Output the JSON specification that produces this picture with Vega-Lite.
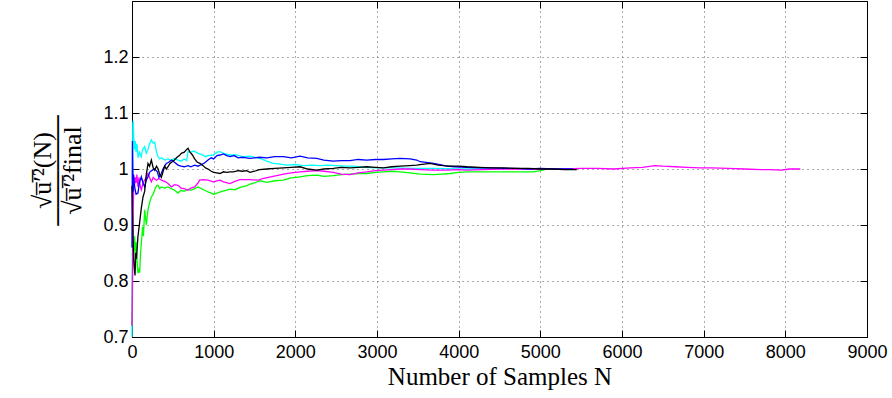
{
"$schema": "https://vega.github.io/schema/vega-lite/v6.json",
"width": 735, "height": 336,
"autosize": {"type": "none"},
"padding": {"left": 132, "top": 1, "right": 25, "bottom": 61},
"background": "white",
"config": {
  "view": {"stroke": "black", "strokeWidth": 1},
  "axis": {
    "domainColor": "black", "tickColor": "black", "tickSize": -7, "tickWidth": 1,
    "gridColor": "#555555", "gridDash": [1, 4], "gridOpacity": 1, "gridWidth": 1,
    "labelFont": "Liberation Sans", "labelFontSize": 18, "labelColor": "black",
    "titleFont": "Liberation Serif", "titleColor": "black", "titleFontWeight": "normal"
  }
},
"datasets": {"d": [
{"s":"cyan","n":0,"v":0.70},{"s":"cyan","n":5,"v":0.85},{"s":"cyan","n":10,"v":1.08},{"s":"cyan","n":15,"v":1.086},{"s":"cyan","n":20,"v":1.06},{"s":"cyan","n":30,"v":1.035},{"s":"cyan","n":40,"v":1.05},{"s":"cyan","n":50,"v":1.03},{"s":"cyan","n":60,"v":1.045},{"s":"cyan","n":75,"v":1.02},{"s":"cyan","n":90,"v":1.03},{"s":"cyan","n":114,"v":1.022},{"s":"cyan","n":130,"v":1.035},{"s":"cyan","n":155,"v":1.04},{"s":"cyan","n":175,"v":1.028},{"s":"cyan","n":196,"v":1.035},{"s":"cyan","n":215,"v":1.045},{"s":"cyan","n":237,"v":1.052},{"s":"cyan","n":260,"v":1.046},{"s":"cyan","n":278,"v":1.048},{"s":"cyan","n":300,"v":1.03},{"s":"cyan","n":318,"v":1.022},{"s":"cyan","n":340,"v":1.018},{"s":"cyan","n":359,"v":1.02},{"s":"cyan","n":400,"v":1.016},{"s":"cyan","n":441,"v":1.018},{"s":"cyan","n":480,"v":1.015},{"s":"cyan","n":520,"v":1.019},{"s":"cyan","n":563,"v":1.016},{"s":"cyan","n":600,"v":1.014},{"s":"cyan","n":640,"v":1.018},{"s":"cyan","n":670,"v":1.015},{"s":"cyan","n":686,"v":1.031},{"s":"cyan","n":720,"v":1.03},{"s":"cyan","n":760,"v":1.032},{"s":"cyan","n":808,"v":1.028},{"s":"cyan","n":850,"v":1.026},{"s":"cyan","n":900,"v":1.022},{"s":"cyan","n":931,"v":1.024},{"s":"cyan","n":996,"v":1.025},{"s":"cyan","n":1040,"v":1.03},{"s":"cyan","n":1078,"v":1.031},{"s":"cyan","n":1120,"v":1.028},{"s":"cyan","n":1200,"v":1.025},{"s":"cyan","n":1282,"v":1.025},{"s":"cyan","n":1350,"v":1.022},{"s":"cyan","n":1446,"v":1.023},{"s":"cyan","n":1500,"v":1.021},{"s":"cyan","n":1568,"v":1.019},{"s":"cyan","n":1650,"v":1.014},{"s":"cyan","n":1731,"v":1.01},{"s":"cyan","n":1800,"v":1.009},{"s":"cyan","n":1895,"v":1.007},{"s":"cyan","n":2000,"v":1.008},{"s":"cyan","n":2100,"v":1.006},{"s":"cyan","n":2200,"v":1.007},{"s":"cyan","n":2303,"v":1.006},{"s":"cyan","n":2400,"v":1.007},{"s":"cyan","n":2500,"v":1.006},{"s":"cyan","n":2600,"v":1.005},{"s":"cyan","n":2711,"v":1.005},{"s":"cyan","n":2850,"v":1.003},{"s":"cyan","n":3000,"v":1.002},{"s":"cyan","n":3200,"v":1.002},{"s":"cyan","n":3450,"v":1.001},{"s":"cyan","n":3700,"v":1.001},{"s":"cyan","n":4000,"v":1.0},{"s":"cyan","n":4400,"v":1.0},
{"s":"green","n":0,"v":0.72},{"s":"green","n":5,"v":0.76},{"s":"green","n":10,"v":0.85},{"s":"green","n":15,"v":0.87},{"s":"green","n":24,"v":0.855},{"s":"green","n":32,"v":0.88},{"s":"green","n":41,"v":0.82},{"s":"green","n":50,"v":0.87},{"s":"green","n":60,"v":0.84},{"s":"green","n":73,"v":0.814},{"s":"green","n":85,"v":0.82},{"s":"green","n":94,"v":0.815},{"s":"green","n":105,"v":0.85},{"s":"green","n":114,"v":0.867},{"s":"green","n":130,"v":0.897},{"s":"green","n":140,"v":0.88},{"s":"green","n":155,"v":0.927},{"s":"green","n":175,"v":0.9},{"s":"green","n":196,"v":0.927},{"s":"green","n":215,"v":0.94},{"s":"green","n":237,"v":0.95},{"s":"green","n":260,"v":0.955},{"s":"green","n":278,"v":0.963},{"s":"green","n":300,"v":0.97},{"s":"green","n":318,"v":0.971},{"s":"green","n":340,"v":0.965},{"s":"green","n":359,"v":0.968},{"s":"green","n":400,"v":0.966},{"s":"green","n":441,"v":0.968},{"s":"green","n":480,"v":0.965},{"s":"green","n":522,"v":0.962},{"s":"green","n":563,"v":0.957},{"s":"green","n":600,"v":0.962},{"s":"green","n":640,"v":0.96},{"s":"green","n":686,"v":0.964},{"s":"green","n":720,"v":0.962},{"s":"green","n":767,"v":0.965},{"s":"green","n":808,"v":0.968},{"s":"green","n":850,"v":0.965},{"s":"green","n":890,"v":0.962},{"s":"green","n":931,"v":0.959},{"s":"green","n":970,"v":0.957},{"s":"green","n":1000,"v":0.955},{"s":"green","n":1040,"v":0.957},{"s":"green","n":1100,"v":0.96},{"s":"green","n":1150,"v":0.962},{"s":"green","n":1200,"v":0.964},{"s":"green","n":1260,"v":0.963},{"s":"green","n":1323,"v":0.967},{"s":"green","n":1400,"v":0.97},{"s":"green","n":1446,"v":0.973},{"s":"green","n":1500,"v":0.975},{"s":"green","n":1568,"v":0.979},{"s":"green","n":1650,"v":0.976},{"s":"green","n":1750,"v":0.979},{"s":"green","n":1854,"v":0.98},{"s":"green","n":1950,"v":0.984},{"s":"green","n":2058,"v":0.986},{"s":"green","n":2150,"v":0.988},{"s":"green","n":2262,"v":0.989},{"s":"green","n":2350,"v":0.987},{"s":"green","n":2466,"v":0.988},{"s":"green","n":2560,"v":0.99},{"s":"green","n":2670,"v":0.991},{"s":"green","n":2770,"v":0.992},{"s":"green","n":2875,"v":0.992},{"s":"green","n":2980,"v":0.994},{"s":"green","n":3079,"v":0.995},{"s":"green","n":3180,"v":0.996},{"s":"green","n":3283,"v":0.995},{"s":"green","n":3400,"v":0.993},{"s":"green","n":3528,"v":0.991},{"s":"green","n":3691,"v":0.99},{"s":"green","n":3800,"v":0.991},{"s":"green","n":3895,"v":0.992},{"s":"green","n":4000,"v":0.994},{"s":"green","n":4100,"v":0.995},{"s":"green","n":4300,"v":0.995},{"s":"green","n":4508,"v":0.995},{"s":"green","n":4700,"v":0.995},{"s":"green","n":4916,"v":0.995},{"s":"green","n":5000,"v":0.997},{"s":"green","n":5080,"v":1.0},
{"s":"magenta","n":0,"v":0.72},{"s":"magenta","n":5,"v":0.80},{"s":"magenta","n":10,"v":0.88},{"s":"magenta","n":15,"v":0.93},{"s":"magenta","n":20,"v":0.957},{"s":"magenta","n":25,"v":0.985},{"s":"magenta","n":30,"v":0.968},{"s":"magenta","n":40,"v":0.985},{"s":"magenta","n":50,"v":0.975},{"s":"magenta","n":60,"v":0.99},{"s":"magenta","n":73,"v":0.968},{"s":"magenta","n":85,"v":0.985},{"s":"magenta","n":100,"v":0.97},{"s":"magenta","n":114,"v":0.963},{"s":"magenta","n":135,"v":0.975},{"s":"magenta","n":155,"v":0.98},{"s":"magenta","n":175,"v":0.985},{"s":"magenta","n":196,"v":0.992},{"s":"magenta","n":215,"v":0.985},{"s":"magenta","n":237,"v":0.977},{"s":"magenta","n":260,"v":0.985},{"s":"magenta","n":278,"v":0.982},{"s":"magenta","n":300,"v":0.98},{"s":"magenta","n":330,"v":0.983},{"s":"magenta","n":359,"v":0.98},{"s":"magenta","n":400,"v":0.978},{"s":"magenta","n":441,"v":0.974},{"s":"magenta","n":482,"v":0.968},{"s":"magenta","n":520,"v":0.972},{"s":"magenta","n":563,"v":0.971},{"s":"magenta","n":600,"v":0.966},{"s":"magenta","n":640,"v":0.965},{"s":"magenta","n":686,"v":0.962},{"s":"magenta","n":720,"v":0.966},{"s":"magenta","n":767,"v":0.968},{"s":"magenta","n":808,"v":0.975},{"s":"magenta","n":828,"v":0.98},{"s":"magenta","n":870,"v":0.981},{"s":"magenta","n":931,"v":0.98},{"s":"magenta","n":996,"v":0.977},{"s":"magenta","n":1040,"v":0.979},{"s":"magenta","n":1078,"v":0.98},{"s":"magenta","n":1120,"v":0.977},{"s":"magenta","n":1200,"v":0.974},{"s":"magenta","n":1260,"v":0.978},{"s":"magenta","n":1323,"v":0.981},{"s":"magenta","n":1404,"v":0.981},{"s":"magenta","n":1446,"v":0.981},{"s":"magenta","n":1550,"v":0.98},{"s":"magenta","n":1600,"v":0.983},{"s":"magenta","n":1700,"v":0.986},{"s":"magenta","n":1854,"v":0.991},{"s":"magenta","n":1950,"v":0.993},{"s":"magenta","n":2058,"v":0.995},{"s":"magenta","n":2150,"v":0.996},{"s":"magenta","n":2262,"v":0.997},{"s":"magenta","n":2350,"v":0.996},{"s":"magenta","n":2466,"v":0.994},{"s":"magenta","n":2560,"v":0.991},{"s":"magenta","n":2670,"v":0.99},{"s":"magenta","n":2770,"v":0.993},{"s":"magenta","n":2875,"v":0.995},{"s":"magenta","n":2980,"v":0.997},{"s":"magenta","n":3079,"v":0.998},{"s":"magenta","n":3180,"v":0.999},{"s":"magenta","n":3283,"v":1.0},{"s":"magenta","n":3400,"v":1.0},{"s":"magenta","n":3528,"v":0.999},{"s":"magenta","n":3691,"v":0.998},{"s":"magenta","n":3855,"v":0.998},{"s":"magenta","n":4000,"v":0.999},{"s":"magenta","n":4100,"v":0.998},{"s":"magenta","n":4300,"v":0.999},{"s":"magenta","n":4508,"v":1.0},{"s":"magenta","n":4700,"v":1.0},{"s":"magenta","n":4916,"v":1.0},{"s":"magenta","n":5100,"v":1.0},{"s":"magenta","n":5300,"v":1.0},{"s":"magenta","n":5500,"v":1.001},{"s":"magenta","n":5700,"v":1.001},{"s":"magenta","n":5900,"v":1.0},{"s":"magenta","n":6100,"v":1.002},{"s":"magenta","n":6250,"v":1.003},{"s":"magenta","n":6404,"v":1.006},{"s":"magenta","n":6500,"v":1.005},{"s":"magenta","n":6650,"v":1.004},{"s":"magenta","n":6800,"v":1.003},{"s":"magenta","n":6950,"v":1.002},{"s":"magenta","n":7100,"v":1.002},{"s":"magenta","n":7300,"v":1.001},{"s":"magenta","n":7500,"v":1.0},{"s":"magenta","n":7700,"v":0.999},{"s":"magenta","n":7813,"v":0.999},{"s":"magenta","n":7950,"v":0.998},{"s":"magenta","n":8050,"v":1.0},{"s":"magenta","n":8183,"v":1.0},
{"s":"blue","n":0,"v":0.86},{"s":"blue","n":5,"v":1.05},{"s":"blue","n":10,"v":1.0},{"s":"blue","n":15,"v":0.96},{"s":"blue","n":20,"v":0.99},{"s":"blue","n":30,"v":0.97},{"s":"blue","n":50,"v":0.955},{"s":"blue","n":73,"v":0.957},{"s":"blue","n":90,"v":0.975},{"s":"blue","n":114,"v":0.986},{"s":"blue","n":135,"v":0.975},{"s":"blue","n":155,"v":0.968},{"s":"blue","n":175,"v":0.98},{"s":"blue","n":196,"v":0.986},{"s":"blue","n":220,"v":0.995},{"s":"blue","n":250,"v":0.998},{"s":"blue","n":278,"v":1.0},{"s":"blue","n":310,"v":0.995},{"s":"blue","n":330,"v":0.985},{"s":"blue","n":359,"v":0.992},{"s":"blue","n":380,"v":1.0},{"s":"blue","n":400,"v":1.005},{"s":"blue","n":420,"v":1.01},{"s":"blue","n":450,"v":1.012},{"s":"blue","n":482,"v":1.016},{"s":"blue","n":520,"v":1.012},{"s":"blue","n":563,"v":1.007},{"s":"blue","n":600,"v":1.005},{"s":"blue","n":640,"v":1.004},{"s":"blue","n":686,"v":1.006},{"s":"blue","n":720,"v":1.004},{"s":"blue","n":767,"v":1.007},{"s":"blue","n":808,"v":1.005},{"s":"blue","n":850,"v":1.008},{"s":"blue","n":880,"v":1.01},{"s":"blue","n":931,"v":1.016},{"s":"blue","n":970,"v":1.02},{"s":"blue","n":1000,"v":1.018},{"s":"blue","n":1040,"v":1.024},{"s":"blue","n":1078,"v":1.025},{"s":"blue","n":1120,"v":1.027},{"s":"blue","n":1160,"v":1.024},{"s":"blue","n":1200,"v":1.022},{"s":"blue","n":1250,"v":1.024},{"s":"blue","n":1300,"v":1.02},{"s":"blue","n":1350,"v":1.021},{"s":"blue","n":1404,"v":1.02},{"s":"blue","n":1446,"v":1.019},{"s":"blue","n":1500,"v":1.02},{"s":"blue","n":1560,"v":1.021},{"s":"blue","n":1650,"v":1.02},{"s":"blue","n":1750,"v":1.022},{"s":"blue","n":1854,"v":1.022},{"s":"blue","n":1950,"v":1.02},{"s":"blue","n":2058,"v":1.023},{"s":"blue","n":2150,"v":1.02},{"s":"blue","n":2262,"v":1.019},{"s":"blue","n":2350,"v":1.016},{"s":"blue","n":2466,"v":1.014},{"s":"blue","n":2560,"v":1.015},{"s":"blue","n":2670,"v":1.015},{"s":"blue","n":2770,"v":1.017},{"s":"blue","n":2875,"v":1.016},{"s":"blue","n":2980,"v":1.017},{"s":"blue","n":3079,"v":1.017},{"s":"blue","n":3180,"v":1.018},{"s":"blue","n":3283,"v":1.019},{"s":"blue","n":3405,"v":1.018},{"s":"blue","n":3487,"v":1.016},{"s":"blue","n":3528,"v":1.013},{"s":"blue","n":3600,"v":1.012},{"s":"blue","n":3691,"v":1.01},{"s":"blue","n":3770,"v":1.008},{"s":"blue","n":3855,"v":1.005},{"s":"blue","n":3950,"v":1.004},{"s":"blue","n":4100,"v":1.003},{"s":"blue","n":4250,"v":1.002},{"s":"blue","n":4400,"v":1.002},{"s":"blue","n":4550,"v":1.001},{"s":"blue","n":4700,"v":1.001},{"s":"blue","n":4850,"v":1.0},{"s":"blue","n":5000,"v":1.001},{"s":"blue","n":5150,"v":1.0},{"s":"blue","n":5300,"v":1.0},{"s":"blue","n":5400,"v":1.0},
{"s":"black","n":0,"v":0.97},{"s":"black","n":5,"v":0.93},{"s":"black","n":10,"v":0.9},{"s":"black","n":20,"v":0.84},{"s":"black","n":30,"v":0.82},{"s":"black","n":37,"v":0.81},{"s":"black","n":45,"v":0.85},{"s":"black","n":55,"v":0.84},{"s":"black","n":73,"v":0.88},{"s":"black","n":90,"v":0.9},{"s":"black","n":114,"v":0.93},{"s":"black","n":135,"v":0.95},{"s":"black","n":155,"v":0.96},{"s":"black","n":175,"v":0.99},{"s":"black","n":196,"v":1.01},{"s":"black","n":215,"v":1.005},{"s":"black","n":237,"v":1.016},{"s":"black","n":260,"v":1.002},{"s":"black","n":278,"v":0.998},{"s":"black","n":300,"v":1.005},{"s":"black","n":320,"v":1.0},{"s":"black","n":340,"v":0.99},{"s":"black","n":359,"v":0.985},{"s":"black","n":380,"v":0.995},{"s":"black","n":400,"v":1.005},{"s":"black","n":420,"v":1.0},{"s":"black","n":441,"v":1.004},{"s":"black","n":465,"v":1.01},{"s":"black","n":500,"v":1.014},{"s":"black","n":520,"v":1.016},{"s":"black","n":551,"v":1.021},{"s":"black","n":580,"v":1.024},{"s":"black","n":604,"v":1.028},{"s":"black","n":640,"v":1.03},{"s":"black","n":670,"v":1.035},{"s":"black","n":686,"v":1.037},{"s":"black","n":710,"v":1.03},{"s":"black","n":740,"v":1.025},{"s":"black","n":767,"v":1.018},{"s":"black","n":800,"v":1.012},{"s":"black","n":833,"v":1.01},{"s":"black","n":870,"v":1.006},{"s":"black","n":900,"v":1.002},{"s":"black","n":931,"v":1.0},{"s":"black","n":970,"v":0.996},{"s":"black","n":1000,"v":0.994},{"s":"black","n":1037,"v":0.993},{"s":"black","n":1078,"v":0.992},{"s":"black","n":1120,"v":0.995},{"s":"black","n":1160,"v":0.994},{"s":"black","n":1200,"v":0.995},{"s":"black","n":1241,"v":0.995},{"s":"black","n":1300,"v":0.997},{"s":"black","n":1350,"v":0.996},{"s":"black","n":1404,"v":0.997},{"s":"black","n":1445,"v":0.994},{"s":"black","n":1500,"v":0.996},{"s":"black","n":1560,"v":0.999},{"s":"black","n":1649,"v":1.0},{"s":"black","n":1750,"v":1.001},{"s":"black","n":1854,"v":1.002},{"s":"black","n":1950,"v":1.003},{"s":"black","n":2058,"v":1.004},{"s":"black","n":2150,"v":1.0},{"s":"black","n":2262,"v":0.998},{"s":"black","n":2350,"v":1.0},{"s":"black","n":2466,"v":1.001},{"s":"black","n":2560,"v":1.003},{"s":"black","n":2670,"v":1.002},{"s":"black","n":2770,"v":1.003},{"s":"black","n":2875,"v":1.004},{"s":"black","n":2980,"v":1.003},{"s":"black","n":3079,"v":1.002},{"s":"black","n":3180,"v":1.004},{"s":"black","n":3283,"v":1.005},{"s":"black","n":3400,"v":1.006},{"s":"black","n":3487,"v":1.007},{"s":"black","n":3528,"v":1.008},{"s":"black","n":3650,"v":1.01},{"s":"black","n":3750,"v":1.007},{"s":"black","n":3813,"v":1.006},{"s":"black","n":3895,"v":1.005},{"s":"black","n":4000,"v":1.005},{"s":"black","n":4100,"v":1.004},{"s":"black","n":4250,"v":1.003},{"s":"black","n":4400,"v":1.002},{"s":"black","n":4550,"v":1.002},{"s":"black","n":4700,"v":1.001},{"s":"black","n":4850,"v":1.001},{"s":"black","n":5000,"v":1.0},{"s":"black","n":5150,"v":1.0},{"s":"black","n":5300,"v":0.999},{"s":"black","n":5446,"v":0.999}
]},
"data": {"name": "d"},
"layer": [
  {
    "mark": {"type": "line", "strokeWidth": 1.3},
    "encoding": {
      "x": {"field": "n", "type": "quantitative",
        "scale": {"domain": [0, 9000], "nice": false, "zero": false},
        "axis": {"orient": "bottom", "values": [0,1000,2000,3000,4000,5000,6000,7000,8000,9000], "format": "d",
          "grid": true, "labelPadding": 13, "labelFlush": false,
          "title": "Number of Samples N", "titleFontSize": 25, "titleBaseline": "alphabetic", "titleY": 47}},
      "y": {"field": "v", "type": "quantitative",
        "scale": {"domain": [0.7, 1.3], "nice": false, "zero": false},
        "axis": {"orient": "left", "values": [0.7,0.8,0.9,1.0,1.1,1.2], "format": "~g",
          "grid": true, "labelPadding": 11,
          "title": ["√u̅′̅²(N)", "──────", "√u̅′̅²final"], "titleFontSize": 26, "titleLineHeight": 15,
          "titleAngle": -90, "titleAlign": "center", "titleBaseline": "middle", "titleX": -90, "titleY": 169}},
      "color": {"field": "s", "type": "nominal",
        "scale": {"domain": ["cyan","green","magenta","blue","black"], "range": ["#00FFFF","#00FF00","#FF00FF","#0000FF","#000000"]},
        "legend": null}
    }
  },
  {
    "mark": {"type": "line", "opacity": 0},
    "encoding": {
      "x": {"field": "n", "type": "quantitative",
        "axis": {"orient": "top", "values": [0,1000,2000,3000,4000,5000,6000,7000,8000,9000], "labels": false, "grid": false, "title": null}},
      "y": {"field": "v", "type": "quantitative",
        "axis": {"orient": "right", "values": [0.7,0.8,0.9,1.0,1.1,1.2], "labels": false, "grid": false, "title": null}}
    }
  }
],
"resolve": {"axis": {"x": "independent", "y": "independent"}}
}
